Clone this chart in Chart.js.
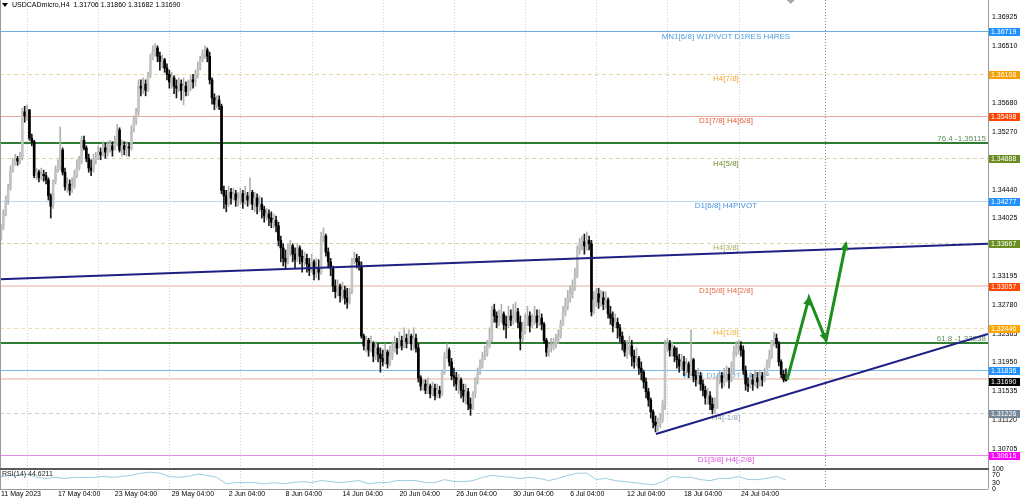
<!DOCTYPE html>
<html>
<head>
<meta charset="utf-8">
<script src="https://cdn.jsdelivr.net/npm/chart.js@4.4.0/dist/chart.umd.min.js"></script>
<style>
  html, body { margin: 0; padding: 0; background: #fff; }
</style>
</head>
<body>
<canvas id="chart" width="1024" height="500"></canvas>
<script>
// ---- data ----
const symbolTitle = 'USDCADmicro,H4  1.31706 1.31860 1.31682 1.31690';
const firstOpen = 1.3366;

const closes = [
  1.3374, 1.3389, 1.3409, 1.3429, 1.3446, 1.3472, 1.3482, 1.3489, 1.3485, 1.3491,
  1.3556, 1.3550, 1.3559, 1.3518, 1.3513, 1.3464, 1.3469, 1.3461, 1.3466, 1.3464,
  1.3458, 1.3435, 1.3420, 1.3455, 1.3472, 1.3478, 1.3501, 1.3469, 1.3448, 1.3452,
  1.3443, 1.3449, 1.3464, 1.3475, 1.3484, 1.3515, 1.3504, 1.3489, 1.3475, 1.3472,
  1.3487, 1.3489, 1.3498, 1.3494, 1.3504, 1.3498, 1.3501, 1.3507, 1.3501, 1.3510,
  1.3530, 1.3501, 1.3507, 1.3502, 1.3505, 1.3504, 1.3530, 1.3544, 1.3556, 1.3593,
  1.3590, 1.3596, 1.3587, 1.3608, 1.3633, 1.3642, 1.3648, 1.3636, 1.3628, 1.3631,
  1.3619, 1.3610, 1.3599, 1.3605, 1.3593, 1.3590, 1.3596, 1.3587, 1.3593, 1.3585,
  1.3593, 1.3602, 1.3599, 1.3610, 1.3619, 1.3631, 1.3639, 1.3645, 1.3636, 1.3602,
  1.3576, 1.3567, 1.3573, 1.3564, 1.3443, 1.3435, 1.3423, 1.3440, 1.3432, 1.3438,
  1.3429, 1.3432, 1.3438, 1.3426, 1.3435, 1.3429, 1.3440, 1.3423, 1.3432, 1.3420,
  1.3423, 1.3415, 1.3406, 1.3409, 1.3403, 1.3397, 1.3400, 1.3392, 1.3371, 1.3360,
  1.3345, 1.3340, 1.3357, 1.3363, 1.3351, 1.3343, 1.3360, 1.3348, 1.3340, 1.3345,
  1.3337, 1.3328, 1.3340, 1.3322, 1.3331, 1.3325, 1.3374, 1.3377, 1.3354, 1.3340,
  1.3331, 1.3305, 1.3297, 1.3305, 1.3291, 1.3299, 1.3288, 1.3282, 1.3297, 1.3340,
  1.3345, 1.3340, 1.3334, 1.3233, 1.3219, 1.3227, 1.3213, 1.3222, 1.3204, 1.3216,
  1.3207, 1.3201, 1.3196, 1.3210, 1.3193, 1.3204, 1.3213, 1.3222, 1.3216, 1.3227,
  1.3219, 1.3230, 1.3225, 1.3233, 1.3222, 1.3230, 1.3216, 1.3173, 1.3161, 1.3164,
  1.3155, 1.3161, 1.3150, 1.3158, 1.3147, 1.3155, 1.3150, 1.3181, 1.3204, 1.3213,
  1.3196, 1.3176, 1.3173, 1.3164, 1.3170, 1.3155, 1.3147, 1.3153, 1.3135, 1.3129,
  1.3150, 1.3170, 1.3181, 1.3190, 1.3201, 1.3207, 1.3219, 1.3227, 1.3271, 1.3262,
  1.3253, 1.3259, 1.3265, 1.3250, 1.3248, 1.3262, 1.3256, 1.3259, 1.3268, 1.3253,
  1.3230, 1.3239, 1.3256, 1.3262, 1.3248, 1.3253, 1.3262, 1.3253, 1.3259, 1.3250,
  1.3227, 1.3210, 1.3216, 1.3219, 1.3222, 1.3227, 1.3233, 1.3250, 1.3268, 1.3276,
  1.3288, 1.3294, 1.3302, 1.3320, 1.3357, 1.3366, 1.3369, 1.3363, 1.3371, 1.3366,
  1.3268, 1.3285, 1.3294, 1.3282, 1.3288, 1.3279, 1.3285, 1.3265, 1.3259, 1.3248,
  1.3253, 1.3245, 1.3233, 1.3222, 1.3210, 1.3213, 1.3219, 1.3204, 1.3196, 1.3201,
  1.3187, 1.3181, 1.3167, 1.3153, 1.3141, 1.3124, 1.3109, 1.3104, 1.3106, 1.3112,
  1.3135, 1.3219, 1.3222, 1.3213, 1.3216, 1.3204, 1.3199, 1.3190, 1.3196, 1.3184,
  1.3193, 1.3181, 1.3199, 1.3176, 1.3170, 1.3176, 1.3164, 1.3155, 1.3144, 1.3147,
  1.3135, 1.3127, 1.3129, 1.3170, 1.3176, 1.3167, 1.3173, 1.3178, 1.3170, 1.3181,
  1.3210, 1.3216, 1.3219, 1.3213, 1.3184, 1.3164, 1.3161, 1.3170, 1.3164, 1.3173,
  1.3167, 1.3176, 1.3170, 1.3178, 1.3193, 1.3204, 1.3225, 1.3230, 1.3222, 1.3196,
  1.3178, 1.31706, 1.31690
];

const highs = [
  1.3383, 1.3394, 1.3415, 1.3435, 1.3452, 1.3478, 1.3489, 1.3495, 1.3492, 1.3498,
  1.3561, 1.3564, 1.3566, 1.3559, 1.3524, 1.3515, 1.3475, 1.3472, 1.3475, 1.3472,
  1.3469, 1.3461, 1.3438, 1.3458, 1.3478, 1.3487, 1.3534, 1.3504, 1.3475, 1.3461,
  1.3458, 1.3461, 1.3472, 1.3487, 1.3492, 1.3521, 1.3521, 1.3507, 1.3495, 1.3487,
  1.3495, 1.3498, 1.3507, 1.3504, 1.3513, 1.3510, 1.3513, 1.3515, 1.3513, 1.3521,
  1.3538, 1.3533, 1.3515, 1.3513, 1.3513, 1.3511, 1.3536, 1.3550, 1.3561, 1.3602,
  1.3602, 1.3605, 1.3602, 1.3613, 1.3639, 1.3651, 1.3654, 1.3651, 1.3642, 1.3638,
  1.3633, 1.3625, 1.3616, 1.3613, 1.3608, 1.3602, 1.3605, 1.3602, 1.3605, 1.3599,
  1.3602, 1.3608, 1.3610, 1.3616, 1.3628, 1.3636, 1.3645, 1.3651, 1.3648, 1.3642,
  1.3605, 1.3582, 1.3579, 1.3579, 1.3567, 1.3449, 1.3443, 1.3449, 1.3446, 1.3446,
  1.3443, 1.3440, 1.3446, 1.3443, 1.3449, 1.3440, 1.3461, 1.3443, 1.3440, 1.3438,
  1.3435, 1.3432, 1.3420, 1.3417, 1.3415, 1.3412, 1.3409, 1.3406, 1.3397, 1.3377,
  1.3366, 1.3357, 1.3366, 1.3371, 1.3366, 1.3360, 1.3366, 1.3363, 1.3357, 1.3354,
  1.3351, 1.3345, 1.3351, 1.3343, 1.3345, 1.3343, 1.3383, 1.3389, 1.3380, 1.3360,
  1.3345, 1.3334, 1.3314, 1.3314, 1.3308, 1.3311, 1.3305, 1.3302, 1.3302, 1.3345,
  1.3354, 1.3351, 1.3348, 1.3340, 1.3236, 1.3233, 1.3230, 1.3233, 1.3225, 1.3225,
  1.3222, 1.3216, 1.3213, 1.3222, 1.3213, 1.3219, 1.3225, 1.3233, 1.3230, 1.3239,
  1.3233, 1.3245, 1.3236, 1.3242, 1.3236, 1.3245, 1.3236, 1.3222, 1.3176, 1.3170,
  1.3170, 1.3173, 1.3164, 1.3167, 1.3164, 1.3164, 1.3161, 1.3184, 1.3210, 1.3222,
  1.3216, 1.3201, 1.3187, 1.3181, 1.3178, 1.3173, 1.3164, 1.3164, 1.3158, 1.3144,
  1.3153, 1.3173, 1.3187, 1.3199, 1.3210, 1.3219, 1.3227, 1.3245, 1.3276, 1.3279,
  1.3268, 1.3271, 1.3279, 1.3268, 1.3262, 1.3276, 1.3271, 1.3279, 1.3282, 1.3273,
  1.3262, 1.3253, 1.3265, 1.3276, 1.3268, 1.3265, 1.3276, 1.3271, 1.3271, 1.3265,
  1.3253, 1.3230, 1.3222, 1.3230, 1.3230, 1.3236, 1.3242, 1.3256, 1.3276, 1.3288,
  1.3299, 1.3305, 1.3314, 1.3331, 1.3363, 1.3374, 1.3377, 1.3380, 1.3383, 1.3377,
  1.3371, 1.3297, 1.3302, 1.3302, 1.3299, 1.3297, 1.3297, 1.3288, 1.3276, 1.3268,
  1.3265, 1.3259, 1.3250, 1.3239, 1.3227, 1.3227, 1.3233, 1.3227, 1.3213, 1.3216,
  1.3204, 1.3196, 1.3184, 1.3173, 1.3158, 1.3144, 1.3127, 1.3118, 1.3115, 1.3121,
  1.3141, 1.3227, 1.3230, 1.3227, 1.3225, 1.3219, 1.3216, 1.3207, 1.3207, 1.3204,
  1.3201, 1.3196, 1.3242, 1.3201, 1.3184, 1.3187, 1.3181, 1.3170, 1.3161, 1.3158,
  1.3153, 1.3144, 1.3144, 1.3176, 1.3184, 1.3181, 1.3187, 1.3190, 1.3187, 1.3196,
  1.3219, 1.3225, 1.3227, 1.3225, 1.3219, 1.3190, 1.3173, 1.3181, 1.3178, 1.3184,
  1.3181, 1.3184, 1.3181, 1.3187, 1.3199, 1.3213, 1.3227, 1.3238, 1.3236, 1.3225,
  1.3199, 1.3184, 1.31860
];

const lows = [
  1.3364, 1.3371, 1.3386, 1.3406, 1.3423, 1.3443, 1.3469, 1.3479, 1.3479, 1.3481,
  1.3487, 1.3541, 1.3544, 1.3515, 1.3507, 1.3461, 1.3458, 1.3455, 1.3458, 1.3456,
  1.3452, 1.3429, 1.3403, 1.3417, 1.3452, 1.3469, 1.3472, 1.3465, 1.3443, 1.3440,
  1.3436, 1.3440, 1.3446, 1.3461, 1.3472, 1.3481, 1.3501, 1.3484, 1.3469, 1.3464,
  1.3469, 1.3481, 1.3487, 1.3487, 1.3492, 1.3489, 1.3492, 1.3498, 1.3492, 1.3501,
  1.3507, 1.3498, 1.3492, 1.3494, 1.3492, 1.3492, 1.3501, 1.3527, 1.3538, 1.3551,
  1.3579, 1.3582, 1.3579, 1.3585, 1.3605, 1.3631, 1.3636, 1.3628, 1.3616, 1.3619,
  1.3613, 1.3602, 1.3590, 1.3590, 1.3582, 1.3576, 1.3585, 1.3573, 1.3566, 1.3579,
  1.3579, 1.3587, 1.3590, 1.3593, 1.3605, 1.3616, 1.3628, 1.3633, 1.3628, 1.3596,
  1.3567, 1.3559, 1.3561, 1.3559, 1.3438, 1.3417, 1.3412, 1.3420, 1.3423, 1.3429,
  1.3420, 1.3420, 1.3423, 1.3417, 1.3423, 1.3420, 1.3423, 1.3415, 1.3412, 1.3409,
  1.3412, 1.3403, 1.3397, 1.3400, 1.3392, 1.3389, 1.3389, 1.3383, 1.3363, 1.3340,
  1.3334, 1.3331, 1.3337, 1.3348, 1.3340, 1.3331, 1.3340, 1.3337, 1.3325, 1.3334,
  1.3325, 1.3320, 1.3325, 1.3314, 1.3317, 1.3314, 1.3322, 1.3369, 1.3348, 1.3331,
  1.3320, 1.3297, 1.3288, 1.3291, 1.3282, 1.3285, 1.3279, 1.3273, 1.3279, 1.3294,
  1.3337, 1.3331, 1.3328, 1.3230, 1.3213, 1.3210, 1.3204, 1.3210, 1.3196, 1.3199,
  1.3196, 1.3181, 1.3190, 1.3193, 1.3187, 1.3190, 1.3199, 1.3210, 1.3207, 1.3216,
  1.3213, 1.3216, 1.3216, 1.3222, 1.3213, 1.3213, 1.3210, 1.3167, 1.3155, 1.3155,
  1.3150, 1.3150, 1.3144, 1.3147, 1.3141, 1.3144, 1.3144, 1.3147, 1.3178, 1.3201,
  1.3190, 1.3170, 1.3161, 1.3155, 1.3150, 1.3144, 1.3138, 1.3135, 1.3127, 1.3119,
  1.3127, 1.3144, 1.3164, 1.3178, 1.3187, 1.3199, 1.3204, 1.3216, 1.3225, 1.3253,
  1.3245, 1.3248, 1.3253, 1.3242, 1.3230, 1.3245, 1.3248, 1.3250, 1.3253, 1.3245,
  1.3213, 1.3225, 1.3236, 1.3248, 1.3239, 1.3245, 1.3250, 1.3245, 1.3248, 1.3242,
  1.3222, 1.3204, 1.3204, 1.3210, 1.3213, 1.3216, 1.3222, 1.3230, 1.3248, 1.3262,
  1.3271, 1.3282, 1.3288, 1.3299, 1.3317, 1.3351, 1.3357, 1.3351, 1.3357, 1.3357,
  1.3262, 1.3265, 1.3276, 1.3273, 1.3276, 1.3271, 1.3273, 1.3259, 1.3250, 1.3239,
  1.3245, 1.3230, 1.3225, 1.3213, 1.3204, 1.3201, 1.3207, 1.3190, 1.3187, 1.3190,
  1.3178, 1.3170, 1.3158, 1.3144, 1.3132, 1.3115, 1.3101, 1.3095, 1.3096, 1.3101,
  1.3109, 1.3127, 1.3210, 1.3204, 1.3204, 1.3196, 1.3187, 1.3181, 1.3184, 1.3176,
  1.3178, 1.3173, 1.3176, 1.3167, 1.3161, 1.3164, 1.3155, 1.3147, 1.3135, 1.3135,
  1.3127, 1.3121, 1.3122, 1.3129, 1.3164, 1.3158, 1.3161, 1.3167, 1.3158, 1.3167,
  1.3178, 1.3204, 1.3207, 1.3204, 1.3178, 1.3155, 1.3153, 1.3158, 1.3155, 1.3161,
  1.3158, 1.3161, 1.3161, 1.3167, 1.3176, 1.3187, 1.3201, 1.3219, 1.3216, 1.3190,
  1.3173, 1.3167, 1.31682
];

// RSI(14), one reading every rsiStep bars
const rsiStep = 4;
const rsiValues = [
  58, 68, 68, 74, 58, 53, 58, 53, 58, 58,
  58, 63, 58, 63, 68, 79, 84, 79, 63, 58,
  63, 74, 68, 58, 26, 32, 32, 32, 26, 32,
  26, 32, 37, 32, 42, 37, 32, 37, 42, 26,
  32, 32, 42, 42, 42, 32, 32, 47, 37, 37,
  42, 58, 68, 63, 58, 53, 58, 53, 42, 53,
  68, 79, 79, 47, 53, 42, 37, 32, 26, 21,
  37, 63, 58, 58, 47, 42, 53, 53, 63, 47,
  47, 53, 63, 44.6211
];
const rsiTicks = [0, 30, 70, 100];

// time axis (bar index -> label)
const dateTickBars = [1, 25, 49, 73, 97, 121, 145, 169, 193, 217, 241, 265, 289, 313];
const dateTickLabels = ['11 May 2023', '17 May 04:00', '23 May 04:00', '29 May 04:00', '2 Jun 04:00',
  '8 Jun 04:00', '14 Jun 04:00', '20 Jun 04:00', '26 Jun 04:00', '30 Jun 04:00', '6 Jul 04:00',
  '12 Jul 04:00', '18 Jul 04:00', '24 Jul 04:00'];
const weekStartBars = [12, 42, 72, 102, 132, 162, 192, 222, 252, 282, 312];
const markerBar = 348.5;
const shiftBar = 334;

const priceTicks = [1.30705, 1.31120, 1.31535, 1.31950, 1.32365, 1.32780, 1.33195,
  1.34025, 1.34440, 1.35270, 1.35680, 1.36510, 1.36925];

// murrey / pivot levels
const levelPrices = [1.36719, 1.36108, 1.35498, 1.34888, 1.34277, 1.33667, 1.33057,
  1.32446, 1.31836, 1.31715, 1.31226, 1.30615];
const levelNames = ['MN1[6/8] W1PIVOT D1RES H4RES', 'H4[7/8]', 'D1[7/8] H4[6/8]', 'H4[5/8]',
  'D1[6/8] H4PIVOT', 'H4[3/8]', 'D1[5/8] H4[2/8]', 'H4[1/8]', 'W1S1 D1PIVOT H4SUP', '',
  'H4[-1/8]', 'D1[3/8] H4[-2/8]'];
const fiboPrices = [1.35115, 1.32238];
const fiboNames = ['76.4', '61.8'];
const bidPrice = 1.31690;

// drawn objects
const upperTrendX = [0.6, 417.2];
const upperTrendY = [1.3315, 1.3366];
const lowerTrendX = [277.2, 417.2];
const lowerTrendY = [1.3092, 1.3236];
const arrowX = [332.5, 341.7, 348.9, 357.3];
const arrowY = [1.3170, 1.3288, 1.3227, 1.3367];

// ---- styles ----
const levelStyles = [
  { line: '#6aaeea', width: 1, dash: [], text: '#4d9de0', tag: '#1e90ff' },
  { line: '#ecd9a0', width: 1, dash: [4, 3], text: '#f0a830', tag: '#f5a000' },
  { line: '#eaa898', width: 1, dash: [], text: '#e0603a', tag: '#ff4500' },
  { line: '#d8d8b0', width: 1, dash: [4, 3], text: '#6f8f2f', tag: '#6b8e23' },
  { line: '#b8d8f4', width: 1, dash: [], text: '#4a90e2', tag: '#1e90ff' },
  { line: '#d4d4aa', width: 1, dash: [4, 3], text: '#a3b060', tag: '#6b8e23' },
  { line: '#f2d8cc', width: 2, dash: [], text: '#e06a48', tag: '#ff4500' },
  { line: '#f0e0b0', width: 1, dash: [4, 3], text: '#f0b030', tag: '#ffa500' },
  { line: '#7ab8ea', width: 1, dash: [], text: '#6aaee6', tag: '#1e90ff' },
  { line: '#f2d8cc', width: 2, dash: [], text: null, tag: null },
  { line: '#d0d0d0', width: 1, dash: [4, 3], text: '#8a9ab0', tag: '#778899' },
  { line: '#e58be5', width: 1, dash: [], text: '#e050e0', tag: '#ff00ff' }
];
const labelBar = 306.7;
const FONT = "'Liberation Sans', Arial, sans-serif";
const bullBody = '#c4c4c4', bullWick = '#b0b0b0', bearBody = '#000000', bearWick = '#1a1a1a';

const opens = closes.map((c, i) => (i === 0 ? firstOpen : closes[i - 1]));
const isBull = i => closes[i] >= opens[i];

const decor = {
  id: 'decor',
  beforeDatasetsDraw(chart) {
    const { ctx, chartArea: area, scales } = chart;
    const x = scales.x, y = scales.y;
    ctx.save();
    ctx.lineWidth = 1;
    ctx.setLineDash([1, 2]);
    ctx.strokeStyle = '#cfcfcf';
    weekStartBars.forEach(b => {
      const px = Math.round(x.getPixelForValue(b)) + 0.5;
      ctx.beginPath(); ctx.moveTo(px, area.top); ctx.lineTo(px, area.bottom); ctx.stroke();
    });
    ctx.strokeStyle = '#8c8c8c';
    const mx = Math.round(x.getPixelForValue(markerBar)) + 0.5;
    ctx.beginPath(); ctx.moveTo(mx, area.top); ctx.lineTo(mx, area.bottom); ctx.stroke();

    levelPrices.forEach((p, i) => {
      const st = levelStyles[i];
      const py = Math.round(y.getPixelForValue(p)) + (st.width % 2 ? 0.5 : 0);
      ctx.setLineDash(st.dash);
      ctx.lineWidth = st.width;
      ctx.strokeStyle = st.line;
      ctx.beginPath(); ctx.moveTo(area.left, py); ctx.lineTo(area.right, py); ctx.stroke();
    });
    ctx.setLineDash([]);
    ctx.lineWidth = 2;
    ctx.strokeStyle = '#2e7d32';
    fiboPrices.forEach(p => {
      const py = Math.round(y.getPixelForValue(p));
      ctx.beginPath(); ctx.moveTo(area.left, py); ctx.lineTo(area.right, py); ctx.stroke();
    });

    ctx.font = '8px ' + FONT;
    ctx.textAlign = 'center';
    ctx.textBaseline = 'middle';
    const lx = x.getPixelForValue(labelBar);
    levelPrices.forEach((p, i) => {
      if (!levelNames[i]) return;
      ctx.fillStyle = levelStyles[i].text;
      ctx.fillText(levelNames[i], lx, y.getPixelForValue(p) + 5);
    });
    ctx.textAlign = 'right';
    ctx.fillStyle = '#5c8c5c';
    fiboPrices.forEach((p, i) => {
      ctx.fillText(fiboNames[i] + ' -' + p.toFixed(5), area.right - 2, y.getPixelForValue(p) - 4);
    });
    ctx.restore();
  },
  afterDatasetsDraw(chart) {
    const { ctx } = chart;
    chart.data.datasets.forEach((ds, di) => {
      if (!ds.arrowHeads) return;
      const pts = chart.getDatasetMeta(di).data;
      ctx.save();
      ctx.fillStyle = ds.borderColor;
      for (let i = 1; i < pts.length; i++) {
        const a = pts[i - 1], b = pts[i];
        const ang = Math.atan2(b.y - a.y, b.x - a.x);
        const dx = Math.cos(ang), dy = Math.sin(ang);
        const tipX = b.x + dx * 2, tipY = b.y + dy * 2;
        const bx = tipX - dx * 9, by = tipY - dy * 9;
        ctx.beginPath();
        ctx.moveTo(tipX, tipY);
        ctx.lineTo(bx - dy * 4, by + dx * 4);
        ctx.lineTo(bx + dy * 4, by - dx * 4);
        ctx.closePath();
        ctx.fill();
      }
      ctx.restore();
    });
  },
  afterDraw(chart) {
    const { ctx, chartArea: area, scales } = chart;
    const x = scales.x, y = scales.y, r = scales.yRsi;
    ctx.save();
    // frame
    ctx.strokeStyle = '#9a9a9a';
    ctx.lineWidth = 1;
    ctx.beginPath();
    ctx.moveTo(area.left + 0.5, area.top); ctx.lineTo(area.left + 0.5, area.bottom);
    ctx.moveTo(area.right + 0.5, area.top); ctx.lineTo(area.right + 0.5, area.bottom);
    ctx.moveTo(area.left, area.bottom + 0.5); ctx.lineTo(area.right, area.bottom + 0.5);
    ctx.stroke();
    ctx.fillStyle = '#5a5a5a';
    ctx.fillRect(area.left, Math.round(y.bottom) - 1, area.right - area.left + 1, 2);

    // price tags on the axis
    ctx.font = '7px ' + FONT;
    ctx.textAlign = 'left';
    ctx.textBaseline = 'middle';
    const tag = (p, bg, fg) => {
      const py = Math.round(y.getPixelForValue(p));
      ctx.fillStyle = bg;
      ctx.fillRect(area.right + 1, py - 3, 31, 8);
      ctx.fillStyle = fg;
      ctx.fillText(p.toFixed(5), area.right + 3, py + 1);
    };
    levelPrices.forEach((p, i) => { if (levelStyles[i].tag) tag(p, levelStyles[i].tag, '#ffffff'); });
    tag(bidPrice, '#000000', '#ffffff');

    // title
    ctx.fillStyle = '#000';
    ctx.beginPath(); ctx.moveTo(2, 3); ctx.lineTo(8, 3); ctx.lineTo(5, 7); ctx.closePath(); ctx.fill();
    ctx.fillText(symbolTitle, 12, 5.5);
    // rsi label
    ctx.fillStyle = '#222';
    ctx.fillText('RSI(14) ' + rsiValues[rsiValues.length - 1].toFixed(4), 2, r.top + 5);
    // chart shift marker
    const sx = x.getPixelForValue(shiftBar);
    ctx.fillStyle = '#a8a8a8';
    ctx.beginPath(); ctx.moveTo(sx - 4, 0); ctx.lineTo(sx + 4, 0); ctx.lineTo(sx, 4); ctx.closePath(); ctx.fill();
    ctx.restore();
  }
};

const wickData = closes.map((c, i) => ({
  x: i,
  y: [Math.min(lows[i], opens[i], c), Math.max(highs[i], opens[i], c)]
}));
const bodyData = closes.map((c, i) => ({ x: i, y: [opens[i], c] }));
const toPts = (xs, ys) => xs.map((v, i) => ({ x: v, y: ys[i] }));

const axisWidth = s => { s.width = 36; s.paddingTop = 0; s.paddingBottom = 0; };
const noGrid = { display: false, drawTicks: false, tickLength: 0 };

new Chart(document.getElementById('chart'), {
  type: 'bar',
  data: {
    datasets: [
      {
        type: 'line', data: toPts(upperTrendX, upperTrendY), borderColor: '#1f1f86', borderWidth: 2,
        pointRadius: 0, order: 0
      },
      {
        type: 'line', data: toPts(lowerTrendX, lowerTrendY), borderColor: '#1f1f86', borderWidth: 2,
        pointRadius: 0, order: 0
      },
      {
        type: 'line', data: toPts(arrowX, arrowY), borderColor: '#1e8f1e', borderWidth: 3,
        pointRadius: 0, order: 0, arrowHeads: true, borderJoinStyle: 'miter'
      },
      {
        type: 'bar', data: bodyData, barThickness: 2, grouped: false, minBarLength: 1, order: 1,
        backgroundColor: c => (isBull(c.dataIndex) ? bullBody : bearBody)
      },
      {
        type: 'bar', data: wickData, barThickness: 1, grouped: false, order: 2,
        backgroundColor: c => (isBull(c.dataIndex) ? bullWick : bearWick)
      },
      {
        type: 'line', yAxisID: 'yRsi', data: rsiValues.map((v, k) => ({ x: k * rsiStep, y: v })),
        borderColor: '#9ccbe0', borderWidth: 1, pointRadius: 0, order: 3
      }
    ]
  },
  options: {
    responsive: false,
    devicePixelRatio: 1,
    animation: false,
    events: [],
    layout: { padding: 0 },
    font: { family: FONT, size: 7 },
    plugins: { legend: { display: false }, tooltip: { enabled: false } },
    scales: {
      x: {
        type: 'linear', min: 0.59, max: 417.2, offset: false,
        grid: noGrid, border: { display: false },
        afterBuildTicks: s => { s.ticks = dateTickBars.map(v => ({ value: v })); },
        afterFit: s => { s.height = 11; s.paddingLeft = 0; s.paddingRight = 0; },
        ticks: {
          autoSkip: false, maxRotation: 0, align: 'start', padding: 1, color: '#000',
          font: { family: FONT, size: 7 },
          callback: (v, i) => dateTickLabels[i]
        }
      },
      y: {
        type: 'linear', position: 'right', stack: 'panes', stackWeight: 469,
        min: 1.30417, max: 1.37170, beginAtZero: false,
        grid: noGrid, border: { display: false },
        afterBuildTicks: s => { s.ticks = priceTicks.map(v => ({ value: v })); },
        afterFit: axisWidth,
        ticks: {
          autoSkip: false, padding: 4, color: '#000', font: { family: FONT, size: 7 },
          callback: v => v.toFixed(5)
        }
      },
      yRsi: {
        type: 'linear', position: 'right', stack: 'panes', stackWeight: 20,
        min: 0, max: 100,
        grid: noGrid, border: { display: false },
        afterBuildTicks: s => { s.ticks = rsiTicks.map(v => ({ value: v })); },
        afterFit: axisWidth,
        ticks: {
          autoSkip: false, padding: 4, color: '#000', font: { family: FONT, size: 7 },
          callback: v => String(v)
        }
      }
    }
  },
  plugins: [decor]
});
</script>
</body>
</html>
